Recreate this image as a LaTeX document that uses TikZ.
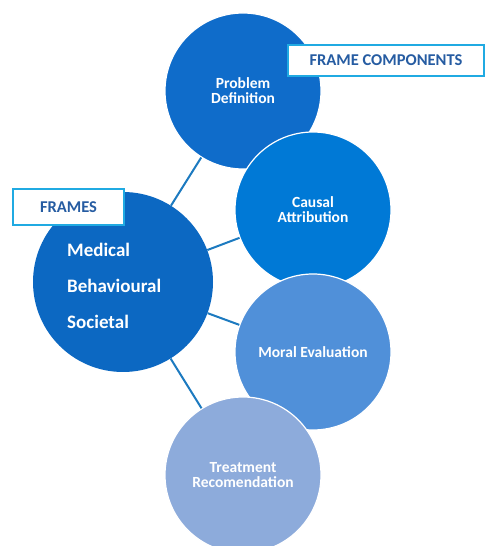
\documentclass[tikz,border=0pt]{standalone}
\usepackage{fontspec}
\setmainfont{Carlito}

\definecolor{frameBlue}{RGB}{12,104,194}
\definecolor{probBlue}{RGB}{15,108,202}
\definecolor{causeBlue}{RGB}{0,121,214}
\definecolor{moralBlue}{RGB}{80,144,217}
\definecolor{treatBlue}{RGB}{141,171,219}
\definecolor{linkBlue}{RGB}{28,122,192}
\definecolor{tagCyan}{RGB}{32,170,226}
\definecolor{tagText}{RGB}{38,92,162}

\tikzset{
  part/.style={circle, draw=white, line width=1.2pt, minimum size=156pt, inner sep=0pt,
    text=white, align=center, font=\bfseries\fontsize{15.5}{15}\selectfont},
  tag/.style={draw=tagCyan, line width=2pt, fill=white, text=tagText, inner sep=0pt,
    font=\bfseries\fontsize{16.5}{16.5}\selectfont},
  link/.style={draw=linkBlue, line width=2pt}
}

\begin{document}
\begin{tikzpicture}[x=1pt,y=1pt]
  \useasboundingbox (0,0) rectangle (486,546);
  %%%%% START %%%%%
  \fill[white] (0,0) rectangle (486,546);

  % frames circle on the left
  \node[circle, fill=frameBlue, minimum size=180pt, inner sep=0pt] (frames) at (123,264) {};
  \node[anchor=north west, inner sep=0pt, text=white, align=left,
    font=\bfseries\fontsize{19}{36}\selectfont] (framelist) at (67,303)
    {Medical\\Behavioural\\Societal};

  % the four components, each one over the last
  \node[part, fill=probBlue] (prob) at (243,455) {Problem\\Definition};
  \node[part, fill=causeBlue] (cause) at (313,336) {Causal\\Attribution};
  \node[part, fill=moralBlue] (moral) at (313,194) {Moral Evaluation};
  \node[part, fill=treatBlue] (treat) at (243,71) {Treatment\\Recomendation};

  \draw[link] (frames) -- (prob);
  \draw[link] (frames) -- (cause);
  \draw[link] (frames) -- (moral);
  \draw[link] (frames) -- (treat);

  % headings
  \node[tag, minimum width=111pt, minimum height=36pt] (framestag) at (68.5,339) {FRAMES};
  \node[tag, minimum width=196pt, minimum height=31pt] (partstag) at (386,485.5) {FRAME COMPONENTS};
  %%%%% END %%%%%
\end{tikzpicture}
\end{document}
